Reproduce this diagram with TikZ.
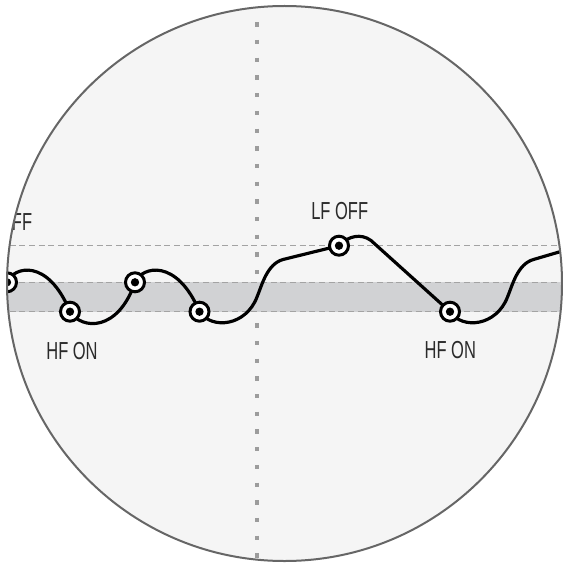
\documentclass[tikz,border=0pt]{standalone}
\usepackage{fontspec}
\setmainfont{Liberation Sans}[FakeStretch=0.67]
\definecolor{lensfill}{HTML}{F5F5F5}
\definecolor{lensrim}{HTML}{666666}
\definecolor{bandgray}{HTML}{D1D2D4}
\definecolor{guidegray}{HTML}{A3A3A3}
\definecolor{dotgray}{HTML}{9C9C9C}
\definecolor{labelgray}{HTML}{2A2A2A}
\tikzset{
  knob/.style={circle,draw=black,fill=white,line width=0.09cm,minimum size=0.57cm,inner sep=0pt,
    path picture={\fill[black] (path picture bounding box.center) circle[radius=0.125cm];}},
  guide/.style={guidegray,line width=0.035cm,dash pattern=on 0.18cm off 0.11cm},
  wave/.style={line width=0.095cm,line join=round},
  tag/.style={text=labelgray,font=\fontsize{21}{23}\selectfont,inner sep=0pt}
}

\begin{document}
\begin{tikzpicture}[x=0.03cm,y=-0.03cm]
\useasboundingbox (0,0) rectangle (562,566);
\fill[lensfill] (284.5,283.5) circle[radius=277.5];
\begin{scope}
\clip (284.5,283.5) circle[radius=277.5];
\draw[dotgray,line width=0.13cm,dash pattern=on 0.13cm off 0.401cm] (257,22.3) -- (257,566);
\fill[bandgray] (0,282.3) rectangle (562,311.7);
\foreach \y in {245.7,282.3,311.7}
  \draw[guide] (0,\y) -- (562,\y);
\coordinate (p0) at (7,282.3);
\coordinate (p1) at (70,311.7);
\coordinate (p2) at (135,282.3);
\coordinate (p3) at (199.5,311.7);
\coordinate (p4) at (339,245.7);
\coordinate (p5) at (450,311.7);
\coordinate (b1) at (283,259.5);
\coordinate (b2) at (371,240.5);
\coordinate (b3) at (533.5,259.5);
\coordinate (e) at (600,240);
\draw[wave] (p0) .. controls (14,266) and (48,258) .. (p1)
  .. controls (82,330) and (118,332) .. (p2)
  .. controls (142,266) and (177,258) .. (p3)
  .. controls (212,330) and (246,326) .. (257,297)
  .. controls (262,285) and (267,264) .. (b1) -- (p4)
  .. controls (348,236) and (361,233) .. (b2) -- (p5)
  .. controls (462.5,330) and (496.5,326) .. (507.5,297)
  .. controls (512.5,285) and (517.5,264) .. (b3) -- (e);
\foreach \n in {0,...,5}
  \node[knob] (m\n) at (p\n) {};
\node[tag] (offL) at (3.7,222.5) {LF OFF};
\node[tag] (offR) at (339.7,210.8) {LF OFF};
\node[tag] (onL) at (72,351) {HF ON};
\node[tag] (onR) at (450.3,350) {HF ON};
\end{scope}
\draw[lensrim,line width=0.06cm] (284.5,283.5) circle[radius=277.5];
\end{tikzpicture}
\end{document}
